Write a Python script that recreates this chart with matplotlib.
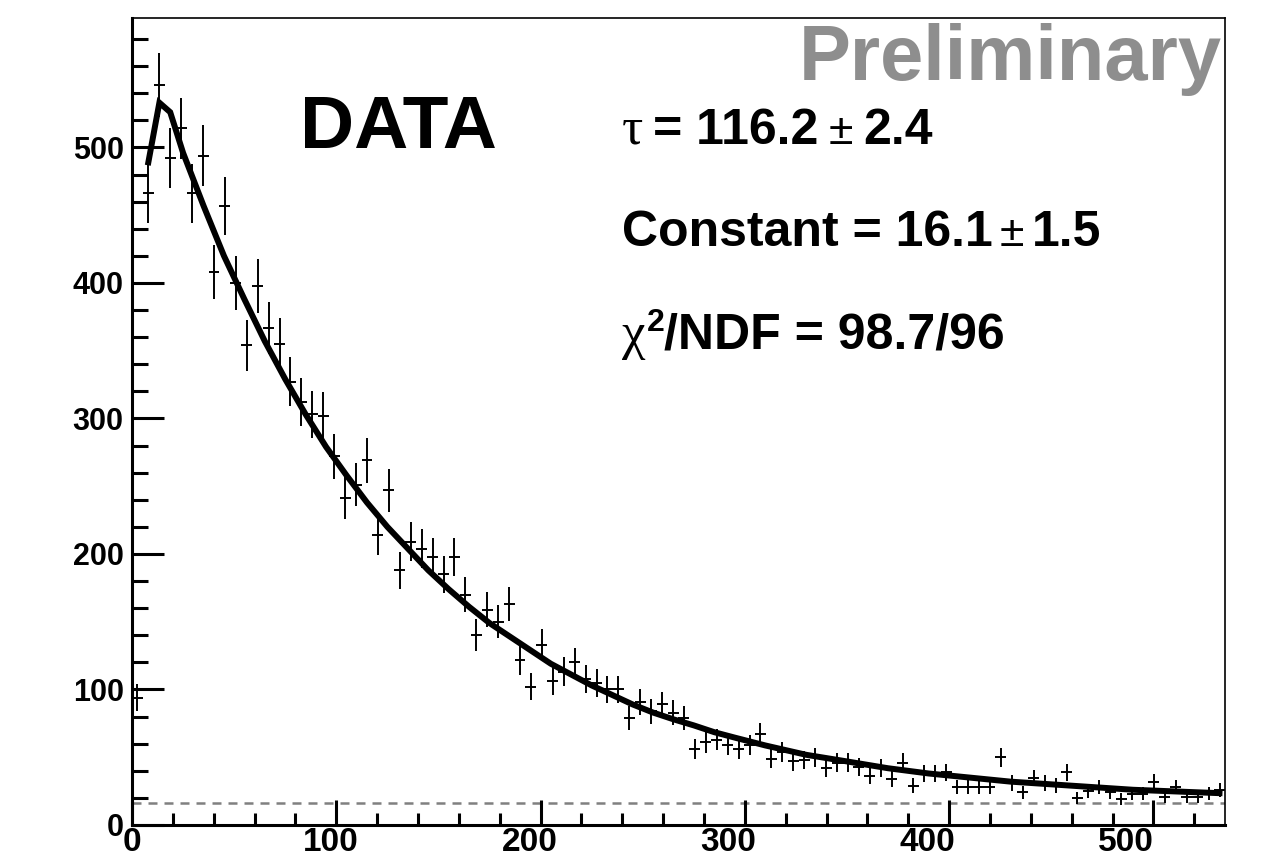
import numpy as np
import matplotlib.pyplot as plt
from matplotlib.ticker import MultipleLocator

plt.rcParams['font.family'] = ['Liberation Sans', 'DejaVu Sans']

# histogram: 100 bins from 0 to 535
x_lo, x_hi, n_bins = 0.0, 535.0, 100
counts = [94, 466, 546, 492, 514, 466, 494, 408, 457, 400,
          354, 398, 367, 355, 327, 312, 303, 302, 272, 241,
          251, 269, 214, 247, 188, 209, 204, 198, 185, 198,
          170, 140, 159, 150, 163, 122, 102, 133, 106, 113,
          120, 108, 105, 100, 100, 79, 91, 84, 89, 83,
          79, 56, 61, 63, 59, 56, 59, 67, 49, 54,
          47, 48, 50, 42, 46, 46, 43, 36, 42, 34,
          46, 29, 38, 38, 39, 28, 28, 28, 28, 50,
          31, 24, 35, 31, 29, 39, 20, 25, 28, 24,
          19, 23, 23, 32, 21, 28, 21, 21, 23, 26]

# fit curve
fit_x = [8.0, 13.4, 18.7, 25, 35, 45, 55, 65, 75, 85, 95, 105, 115, 125,
         135, 145, 155, 165, 175, 185, 195, 205, 215, 225, 235, 245, 255,
         265, 275, 285, 295, 310, 330, 350, 370, 390, 410, 430, 450, 470,
         490, 510, 532.3]
fit_y = [489, 533, 526, 496, 457, 420, 388, 357, 329, 303, 279, 258, 238,
         220, 204, 188, 174, 161, 149, 139, 129, 119, 111, 103, 96, 89, 83,
         78, 73.5, 68.5, 64.5, 58.7, 51.8, 46.9, 41.9, 38, 35, 32, 30, 28,
         26, 24.8, 23.5]

constant = 16.1
xticks = [0, 100, 200, 300, 400, 500]
yticks = [0, 100, 200, 300, 400, 500]
xlabel_squeeze = 0.973   # x labels sit slightly left of their ticks in the original

W, H = 1272, 866
fig = plt.figure(figsize=(W / 100, H / 100), dpi=100)
ax = fig.add_axes([132 / W, 41 / H, 1093 / W, 807 / H])

edges = np.linspace(x_lo, x_hi, n_bins + 1)
centers = 0.5 * (edges[:-1] + edges[1:])
bw = edges[1] - edges[0]

ax.axhline(constant, color='#808080', lw=1.8, ls=(0, (3.6, 2.8)), zorder=1)
ax.errorbar(centers, counts, yerr=np.sqrt(counts), xerr=bw / 2, fmt='none',
            ecolor='black', elinewidth=1.4, capsize=0, zorder=2)
ax.plot(fit_x, fit_y, color='black', lw=4.3, solid_joinstyle='miter', zorder=3)

ax.set_xlim(x_lo, x_hi)
ax.set_ylim(0, 595.5)

ax.set_xticks(xticks)
ax.set_yticks(yticks)
ax.set_yticklabels([str(v) for v in yticks], fontsize=22, fontweight='bold')
ax.xaxis.set_minor_locator(MultipleLocator(20))
ax.yaxis.set_minor_locator(MultipleLocator(20))
ax.tick_params(which='both', direction='in', top=False, right=False, width=2.2)
ax.tick_params(axis='x', which='both', labelbottom=False)
ax.tick_params(axis='x', which='major', length=18)
ax.tick_params(axis='x', which='minor', length=8.6)
ax.tick_params(axis='y', which='major', length=23, pad=6)
ax.tick_params(axis='y', which='minor', length=11.5)
for s in ['left', 'bottom']:
    ax.spines[s].set_linewidth(2.2)
for s in ['top', 'right']:
    ax.spines[s].set_linewidth(1.2)

xtrans = ax.get_xaxis_transform()
for v in xticks:
    ax.text(v * xlabel_squeeze, -0.003, str(v), transform=xtrans, ha='center',
            va='top', fontsize=24, fontweight='bold', clip_on=False)

fig.text(300 / W, 1 - 148 / H, 'DATA', fontsize=54, fontweight='bold',
         ha='left', va='baseline')
fig.text(1222 / W, 1 - 80 / H, 'Preliminary', fontsize=56, fontweight='bold',
         color='#8e8e8e', ha='right', va='baseline')

# stats lines built piece by piece
renderer = fig.canvas.get_renderer()
bold = dict(fontsize=36, fontweight='bold')
greek = dict(fontsize=38, family='Liberation Serif')
pm = dict(fontsize=32)


def put_line(x, base, pieces):
    for p in pieces:
        if isinstance(p, (int, float)):
            x += p
            continue
        s, kw, dy = p
        t = fig.text(x / W, 1 - (base - dy) / H, s, ha='left', va='baseline', **kw)
        x += t.get_window_extent(renderer).width


put_line(622, 144, [('τ', greek, 0), 10, ('= 116.2', bold, 0), 10,
                    ('±', pm, 0), 10, ('2.4', bold, 0)])
put_line(622, 246, [('Constant = 16.1', bold, 0), 7, ('±', pm, 0), 8,
                    ('1.5', bold, 0)])
put_line(622, 349, [('χ', greek, 0), 1, ('2', dict(fontsize=23, fontweight='bold'), 18),
                    ('/NDF = 98.7/96', bold, 0)])

fig.savefig('out.png', dpi=100)
